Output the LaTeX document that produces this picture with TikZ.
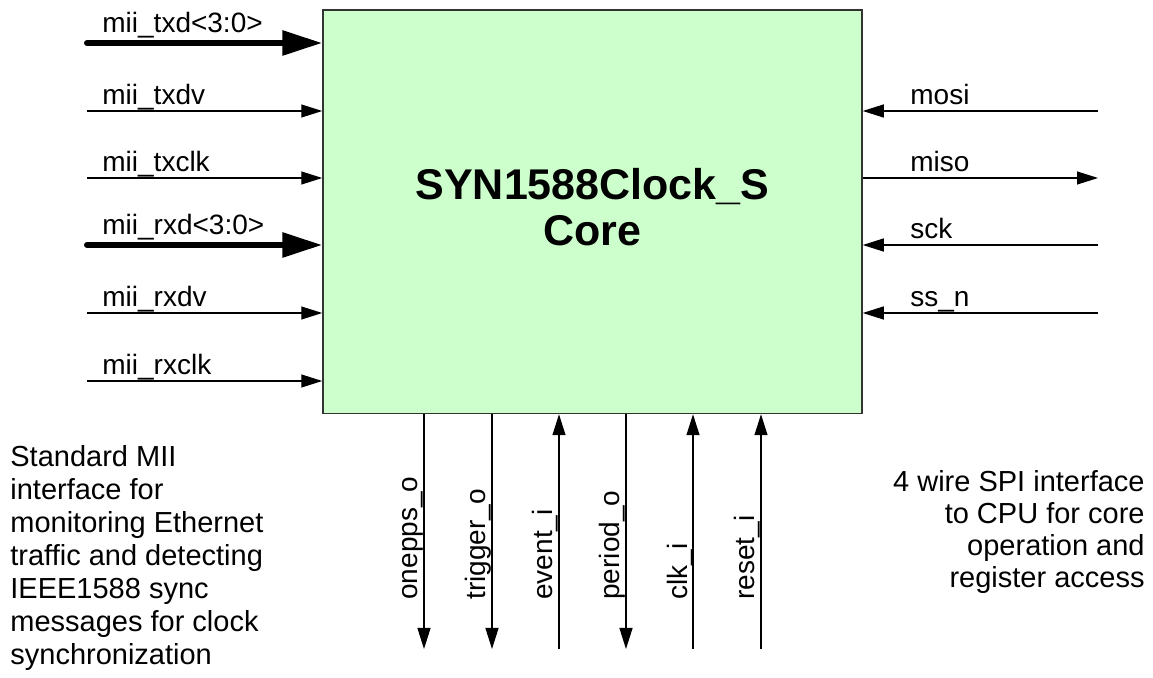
\documentclass[tikz,border=0pt]{standalone}
\usepackage{fontspec}
\setmainfont{Liberation Sans}
\usetikzlibrary{arrows.meta}
\definecolor{corefill}{HTML}{CCFFCC}
\definecolor{coreedge}{HTML}{333333}
\begin{document}
\begin{tikzpicture}[x=0.5pt,y=-0.5pt,
  sig/.style={line width=0.6pt, -{Triangle[length=10.5pt,width=6.5pt]}},
  bus/.style={line width=3pt, line cap=round, -{Triangle[length=20pt,width=12pt]}},
  lbl/.style={font=\fontsize{14}{16}\selectfont, inner sep=0pt, anchor=base west},
  vlbl/.style={lbl, rotate=90},
  corebox/.style={draw=coreedge, fill=corefill, line width=0.75pt, inner sep=0pt,
    minimum width=269.5pt, minimum height=201.75pt},
  title/.style={font=\fontsize{21.5}{23}\selectfont\bfseries, align=center, inner sep=0pt},
  desc/.style={font=\fontsize{14.5}{16.5}\selectfont, inner sep=0pt},
]
\useasboundingbox (0,0) rectangle (1153,678);

\node[corebox] (core) at (592.5,211.75) {};
% multi-line node: base anchor is the baseline of the last line
\node[title, anchor=base] (ttl) at (592.5,246) {SYN1588Clock\_S\\Core};

% left MII signals
\coordinate (txd) at (87,43);
\coordinate (txdv) at (87,111);
\coordinate (txclk) at (87,178);
\coordinate (rxd) at (87,245);
\coordinate (rxdv) at (87,313);
\coordinate (rxclk) at (87,381);
\draw[bus] (txd) -- (txd -| core.west);
\draw[sig] (txdv) -- (txdv -| core.west);
\draw[sig] (txclk) -- (txclk -| core.west);
\draw[bus] (rxd) -- (rxd -| core.west);
\draw[sig] (rxdv) -- (rxdv -| core.west);
\draw[sig] (rxclk) -- (rxclk -| core.west);
\node[lbl] (ltxd) at (102,33) {mii\_txd<3:0>};
\node[lbl] (ltxdv) at (102,105) {mii\_txdv};
\node[lbl] (ltxclk) at (102,172) {mii\_txclk};
\node[lbl] (lrxd) at (102,235) {mii\_rxd<3:0>};
\node[lbl] (lrxdv) at (102,307) {mii\_rxdv};
\node[lbl] (lrxclk) at (102,375) {mii\_rxclk};

% right SPI signals
\coordinate (mosi) at (1098,111);
\coordinate (miso) at (1098,178);
\coordinate (sck) at (1098,245);
\coordinate (ssn) at (1098,313);
\draw[sig] (mosi) -- (mosi -| core.east);
\draw[sig] (miso -| core.east) -- (miso);
\draw[sig] (sck) -- (sck -| core.east);
\draw[sig] (ssn) -- (ssn -| core.east);
\node[lbl] (lmosi) at (910,105) {mosi};
\node[lbl] (lmiso) at (910,172) {miso};
\node[lbl] (lsck) at (910,239) {sck};
\node[lbl] (lssn) at (910,307) {ss\_n};

% bottom signals
\coordinate (onepps) at (424,649);
\coordinate (trigger) at (492,649);
\coordinate (event) at (559,649);
\coordinate (period) at (626,649);
\coordinate (clk) at (693,649);
\coordinate (reset) at (761,649);
\draw[sig] (onepps |- core.south) -- (onepps);
\draw[sig] (trigger |- core.south) -- (trigger);
\draw[sig] (event) -- (event |- core.south);
\draw[sig] (period |- core.south) -- (period);
\draw[sig] (clk) -- (clk |- core.south);
\draw[sig] (reset) -- (reset |- core.south);
\node[vlbl] (lonepps) at (417,600) {onepps\_o};
\node[vlbl] (ltrigger) at (485,600) {trigger\_o};
\node[vlbl] (levent) at (552,600) {event\_i};
\node[vlbl] (lperiod) at (619,600) {period\_o};
\node[vlbl] (lclk) at (687,600) {clk\_i};
\node[vlbl] (lreset) at (754,600) {reset\_i};

% descriptions (anchored at the baseline of their last line)
\node[desc, align=left, anchor=base west] (miitext) at (10,665)
  {Standard MII\\interface for\\monitoring Ethernet\\traffic and detecting\\IEEE1588 sync\\messages for clock\\synchronization};
\node[desc, font=\fontsize{14.5}{16}\selectfont, align=right, anchor=base east] (spitext) at (1145,588)
  {4 wire SPI interface\\to CPU for core\\operation and\\register access};
\end{tikzpicture}
\end{document}
